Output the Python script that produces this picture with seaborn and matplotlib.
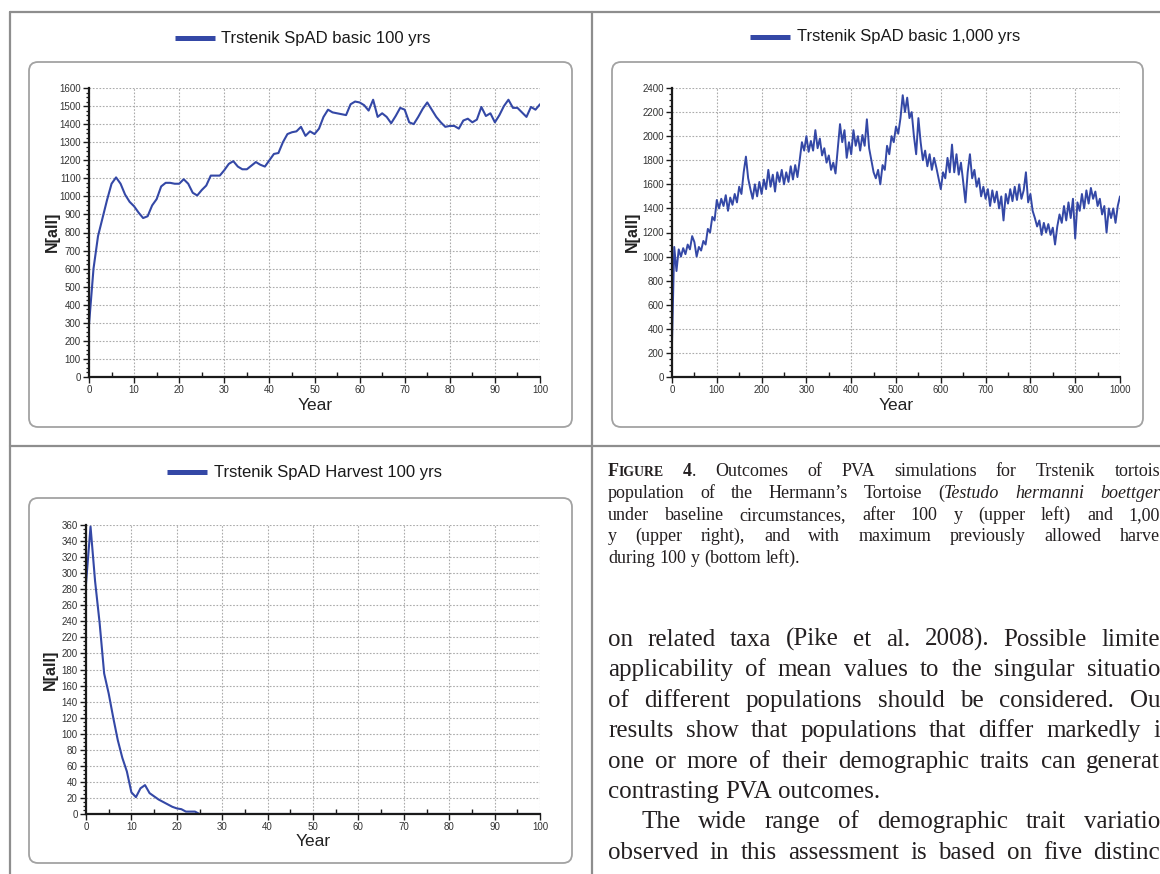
import numpy as np
import pandas as pd
import matplotlib
matplotlib.use("Agg")
import matplotlib.pyplot as plt
import seaborn as sns
from matplotlib.patches import FancyBboxPatch
from matplotlib.lines import Line2D
from matplotlib.transforms import IdentityTransform
from matplotlib.ticker import MultipleLocator

# ---------------- data ----------------
years_100 = list(range(0, 101))
n_basic_100 = [290, 600, 780, 880, 980, 1070, 1105, 1070, 1010, 970,
               945, 910, 880, 890, 950, 985, 1055, 1075, 1075, 1070,
               1070, 1095, 1070, 1020, 1005, 1035, 1060, 1115, 1115, 1115,
               1145, 1180, 1195, 1165, 1150, 1150, 1170, 1190, 1175, 1165,
               1200, 1235, 1240, 1300, 1345, 1355, 1360, 1385, 1335, 1360,
               1345, 1375, 1440, 1480, 1465, 1460, 1455, 1450, 1510, 1525,
               1520, 1505, 1475, 1535, 1440, 1460, 1440, 1405, 1445, 1490,
               1480, 1410, 1400, 1440, 1485, 1520, 1480, 1440, 1410, 1385,
               1390, 1390, 1375, 1420, 1430, 1410, 1425, 1495, 1445, 1460,
               1410, 1450, 1500, 1535, 1490, 1490, 1465, 1440, 1495, 1480,
               1510]

years_1000 = list(range(0, 1001, 5))
n_basic_1000 = [280, 1080, 880, 1060, 1000, 1070, 1020, 1100, 1060, 1170,
                1120, 1000, 1080, 1050, 1130, 1100, 1230, 1200, 1330, 1300,
                1470, 1400, 1480, 1420, 1510, 1380, 1490, 1430, 1520, 1450,
                1580, 1520, 1700, 1830, 1650, 1560, 1480, 1600, 1500, 1620,
                1520, 1640, 1560, 1720, 1580, 1680, 1540, 1700, 1620, 1720,
                1600, 1700, 1620, 1750, 1640, 1760, 1660, 1800, 1950, 1880,
                2000, 1870, 1960, 1880, 2050, 1900, 1980, 1840, 1900, 1780,
                1840, 1720, 1780, 1690, 1900, 2100, 1950, 2050, 1820, 1950,
                1850, 2050, 1920, 2000, 1880, 2010, 1920, 2140, 1900, 1800,
                1700, 1650, 1720, 1600, 1760, 1720, 1920, 1850, 2000, 1950,
                2080, 2020, 2150, 2340, 2200, 2320, 2150, 2200, 2000, 1850,
                2150, 1950, 1800, 1880, 1750, 1850, 1720, 1820, 1740, 1650,
                1560, 1700, 1650, 1820, 1700, 1930, 1700, 1850, 1680, 1780,
                1620, 1450, 1700, 1850, 1650, 1720, 1580, 1650, 1500, 1580,
                1480, 1560, 1420, 1550, 1450, 1540, 1400, 1500, 1300, 1520,
                1440, 1560, 1460, 1580, 1470, 1600, 1480, 1550, 1700, 1450,
                1520, 1380, 1320, 1250, 1300, 1180, 1280, 1200, 1270, 1180,
                1240, 1100, 1250, 1350, 1280, 1420, 1300, 1450, 1320, 1480,
                1150, 1450, 1380, 1520, 1400, 1550, 1440, 1570, 1480, 1540,
                1420, 1480, 1350, 1420, 1200, 1400, 1320, 1400, 1280, 1420,
                1500]

n_harvest_100 = [287, 358, 290, 238, 175, 150, 120, 92, 70, 53,
                 27, 21, 32, 36, 26, 22, 18, 15, 12, 9,
                 7, 6, 3, 3, 3, 0, 0, 0, 0, 0,
                 0, 0, 0, 0, 0, 0, 0, 0, 0, 0,
                 0, 0, 0, 0, 0, 0, 0, 0, 0, 0,
                 0, 0, 0, 0, 0, 0, 0, 0, 0, 0,
                 0, 0, 0, 0, 0, 0, 0, 0, 0, 0,
                 0, 0, 0, 0, 0, 0, 0, 0, 0, 0,
                 0, 0, 0, 0, 0, 0, 0, 0, 0, 0,
                 0, 0, 0, 0, 0, 0, 0, 0, 0, 0,
                 0]

series_titles = ["Trstenik SpAD basic 100 yrs",
                 "Trstenik SpAD basic 1,000 yrs",
                 "Trstenik SpAD Harvest 100 yrs"]
x_label = "Year"
y_label = "N[all]"

caption_lines = [
    "FIGURE 4. Outcomes of PVA simulations for Trstenik tortois",
    "population of the Hermann\u2019s Tortoise (Testudo hermanni boettger",
    "under baseline circumstances, after 100 y (upper left) and 1,00",
    "y (upper right), and with maximum previously allowed harve",
    "during 100 y (bottom left).",
]
italic_words = {"(Testudo", "hermanni", "boettger"}
body_lines = [
    "on related taxa (Pike et al. 2008). Possible limite",
    "applicability of mean values to the singular situatio",
    "of different populations should be considered. Ou",
    "results show that populations that differ markedly i",
    "one or more of their demographic traits can generat",
    "contrasting PVA outcomes.",
    "The wide range of demographic trait variatio",
    "observed in this assessment is based on five distinc",
]

# ---------------- style ----------------
sns.set_style("white")
SANS = "Liberation Sans"
SERIF = "Liberation Serif"
plt.rcParams["font.family"] = [SANS, "DejaVu Sans"]

W, H = 1160, 874
fig = plt.figure(figsize=(W / 100, H / 100), dpi=100)
fig.patch.set_facecolor("white")
ID = IdentityTransform()
LINE_C = "#3448a6"
GRID_C = "#ababab"
TXT_C = "#231f20"


def px_rect(x0, x1, ytop, ybot):
    return [x0 / W, 1 - ybot / H, (x1 - x0) / W, (ybot - ytop) / H]


def P(x, y):
    return x, H - y


# panel borders
for (xa, ya, xb, yb) in [(10, 12, 1160, 12), (10, 12, 10, 874), (592, 12, 592, 874),
                         (10, 446, 1160, 446)]:
    fig.add_artist(Line2D([xa, xb], [H - ya, H - yb], transform=ID,
                          color="#8e8e8e", lw=1.6, zorder=0))

panels = [
    dict(data=(years_100, n_basic_100), ax=(89, 540, 88, 377), box=(29, 62, 572, 427),
         xlim=(0, 100), ylim=(0, 1600), xmaj=10, ymaj=100, lw=1.5,
         leg=(175, 215, 38, 221), title=series_titles[0], ylab=(52, 232), xlab=(315, 405)),
    dict(data=(years_1000, n_basic_1000), ax=(672, 1120, 88, 377), box=(612, 62, 1143, 427),
         xlim=(0, 1000), ylim=(0, 2400), xmaj=100, ymaj=200, lw=1.4,
         leg=(750, 790, 37, 797), title=series_titles[1], ylab=(632, 232), xlab=(896, 405)),
    dict(data=(years_100, n_harvest_100), ax=(86, 540, 525, 814), box=(29, 498, 572, 863),
         xlim=(0, 100), ylim=(0, 360), xmaj=10, ymaj=20, lw=1.5,
         leg=(167, 207, 472, 214), title=series_titles[2], ylab=(50, 670), xlab=(313, 842)),
]

for p in panels:
    bx0, by0, bx1, by1 = p["box"]
    fig.add_artist(FancyBboxPatch((bx0, H - by1), bx1 - bx0, by1 - by0,
                                  boxstyle="round,pad=0,rounding_size=9",
                                  transform=ID, fc="white", ec="#a2a2a2", lw=1.3, zorder=0.5))
    ax = fig.add_axes(px_rect(*p["ax"]))
    ax.set_facecolor("none")
    ax.set_zorder(2)
    df = pd.DataFrame({"Year": p["data"][0], "N": p["data"][1]})
    sns.lineplot(data=df, x="Year", y="N", ax=ax, color=LINE_C, lw=p["lw"], legend=False)
    ax.set_xlim(*p["xlim"])
    ax.set_ylim(*p["ylim"])
    ax.set_xlabel("")
    ax.set_ylabel("")
    ax.xaxis.set_major_locator(MultipleLocator(p["xmaj"]))
    ax.xaxis.set_minor_locator(MultipleLocator(p["xmaj"] / 2))
    ax.yaxis.set_major_locator(MultipleLocator(p["ymaj"]))
    ax.yaxis.set_minor_locator(MultipleLocator(p["ymaj"] / 4))
    ax.grid(True, which="major", color=GRID_C, ls=(0, (1.5, 1.5)), lw=0.8)
    for s in ["top", "right"]:
        ax.spines[s].set_visible(False)
    for s in ["left", "bottom"]:
        ax.spines[s].set_color("#1a1a1a")
        ax.spines[s].set_linewidth(1.6)
    ax.tick_params(axis="both", which="major", length=4, width=1.0, color="#1a1a1a",
                   labelsize=7, labelcolor="#333333", pad=2, direction="out",
                   left=True, bottom=True)
    ax.tick_params(axis="y", which="minor", length=2.5, width=0.9, color="#1a1a1a",
                   direction="out", left=True)
    ax.tick_params(axis="x", which="minor", length=3.5, width=1.0, color="#1a1a1a",
                   direction="in", bottom=True)
    # legend-like title
    lx0, lx1, ly, tx = p["leg"]
    fig.add_artist(Line2D([lx0, lx1], [H - ly, H - ly], transform=ID, color=LINE_C,
                          lw=3.6, solid_capstyle="butt"))
    fig.text(tx, H - ly, p["title"], transform=ID, ha="left", va="center",
             fontsize=12, color="#1a1a1a")
    fig.text(*P(*p["ylab"]), y_label, transform=ID, ha="center", va="center",
             rotation=90, fontsize=11.5, fontweight="bold", color="#222222")
    fig.text(*P(*p["xlab"]), x_label, transform=ID, ha="center", va="center",
             fontsize=12.5, color="#222222")

# ---------------- justified text ----------------
renderer = fig.canvas.get_renderer()


def measure(txt, **kw):
    t = fig.text(0, 0, txt, transform=ID, family=SERIF, **kw)
    w = t.get_window_extent(renderer).width
    t.remove()
    return w


def draw_line(words, x_left, x_right, y_base, size, justify):
    widths = []
    for w in words:
        widths.append(sum(measure(txt, fontsize=size * kw.get("scale", 1),
                                  fontweight=kw.get("weight", "normal"),
                                  fontstyle=kw.get("style", "normal"))
                          for txt, kw in w))
    if justify and len(words) > 1:
        gap = (x_right - x_left - sum(widths)) / (len(words) - 1)
    else:
        gap = measure("a a", fontsize=size) - measure("aa", fontsize=size)
    x = x_left
    for w, wd in zip(words, widths):
        xx = x
        for txt, kw in w:
            t = fig.text(xx, H - y_base, txt, transform=ID, family=SERIF,
                         fontsize=size * kw.get("scale", 1),
                         fontweight=kw.get("weight", "normal"),
                         fontstyle=kw.get("style", "normal"),
                         ha="left", va="baseline", color=TXT_C)
            xx += t.get_window_extent(renderer).width
        x += wd + gap


def plain_words(line):
    out = []
    for w in line.split():
        if w in italic_words:
            if w.startswith("("):
                out.append([("(", {}), (w[1:], {"style": "italic"})])
            else:
                out.append([(w, {"style": "italic"})])
        else:
            out.append([(w, {})])
    return out


CAP_SIZE = 13
BODY_SIZE = 18
cap_base = [476, 498, 520, 541, 563]
for i, line in enumerate(caption_lines):
    words = plain_words(line)
    if i == 0:
        words[0] = [("F", {"weight": "bold"}), ("IGURE", {"weight": "bold", "scale": 0.76})]
        words[1] = [("4", {"weight": "bold"}), (".", {})]
    draw_line(words, 608, 1160, cap_base[i], CAP_SIZE, justify=(i < 4))

body_base = [646, 676, 707, 737, 768, 798, 828, 859]
for i, line in enumerate(body_lines):
    words = plain_words(line)
    x_left = 641 if i == 6 else 608
    draw_line(words, x_left, 1160, body_base[i], BODY_SIZE, justify=(i != 5))

fig.savefig("out.png", dpi=100, facecolor="white")
